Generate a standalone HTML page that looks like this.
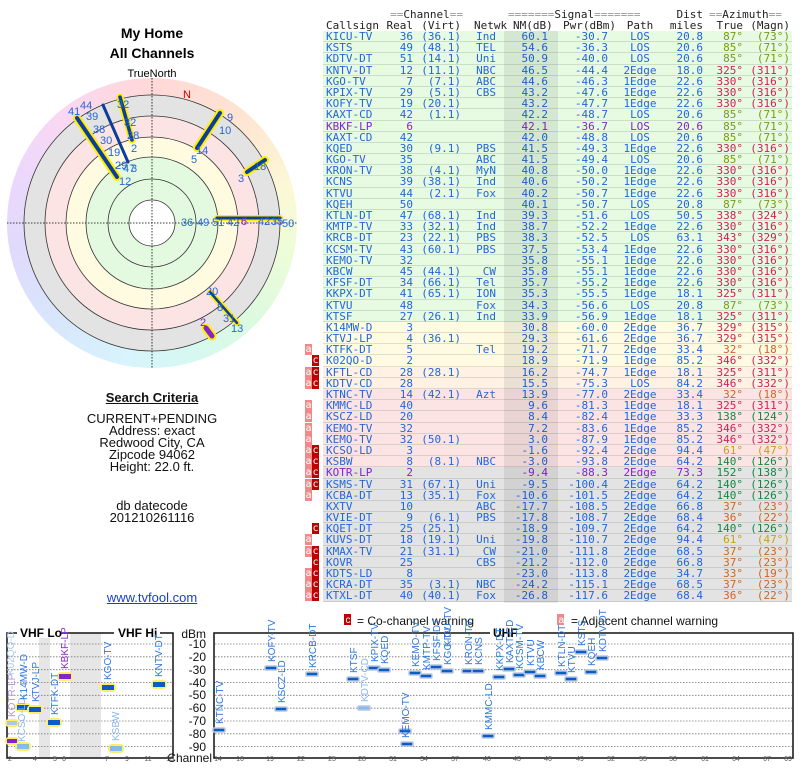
<!DOCTYPE html>
<html><head><meta charset="utf-8"><style>
body{margin:0;width:800px;height:768px;background:#fff;position:relative;overflow:hidden;font-family:"Liberation Sans",sans-serif}
.ab{position:absolute}
.ctr{position:absolute;left:52px;width:200px;text-align:center;font-size:13px;line-height:12px;color:#111}
#tb{position:absolute;left:323px;top:31px;width:469px;font-family:"DejaVu Sans Mono","Liberation Mono",monospace;font-size:11px;color:#2266dd}
.r{position:relative;height:11.2px;line-height:11.2px;border-bottom:1px solid rgba(120,140,120,0.25);box-sizing:border-box}
.r span{position:absolute;top:0;white-space:pre}
.g{background:#e6fbe2}.y{background:#fffbe2}.o{background:#fff1e4}.p{background:#fde4e4}.q{background:#e3e3e3}
.c1{left:3px}.c2{left:50px;width:40px;text-align:right}.c3{left:92px;width:46px;text-align:right}
.c4{left:146px;width:27px;text-align:right}.c5{left:190px;width:35px;text-align:right}
.c6{left:240px;width:45px;text-align:right}.c7{left:297px;width:40px;text-align:center}
.c8{left:345px;width:35px;text-align:right}.c9{left:380px;width:40px;text-align:right}
.c10{left:420px;width:47px;text-align:right}
.A{color:#7a9a10}.B{color:#cc2255}.C{color:#cc6622}.D{color:#c8a010}.E{color:#118844}
.pu{color:#8822cc}
.ba{position:absolute;left:-18px;top:0;width:7px;height:11px;background:#f08a8a;color:#fff;font-size:10px;line-height:11px;text-align:center}
.bc{position:absolute;left:-11px;top:0;width:7px;height:11px;background:#c00000;color:#fff;font-size:10px;line-height:11px;text-align:center}
#hd{position:absolute;left:323px;top:8px;font-family:"DejaVu Sans Mono","Liberation Mono",monospace;font-size:11px;color:#222;width:469px;height:24px}
#hd span{position:absolute;white-space:pre}
.eq{color:#999}
</style></head><body>

<div class="ab" style="left:152px;top:23px;width:200px;margin-left:-100px;text-align:center;font-weight:bold;font-size:14px;line-height:20px">My Home<br>All Channels</div>
<div class="ab" style="left:102px;top:68px;width:100px;text-align:center;font-size:11px">TrueNorth</div>

<div class="ab" style="left:7px;top:78px;width:290px;height:290px;border-radius:50%;background:conic-gradient(#ffd8d8 0deg,#ffe4d2 40deg,#fcf8d6 75deg,#eefcd8 100deg,#dcfae0 135deg,#d6f8f2 165deg,#d8f4fc 190deg,#d8e6fc 225deg,#e0dafc 260deg,#ecd8fc 290deg,#fad8f2 320deg,#ffd8d8 360deg)"></div>

<svg class="ab" style="left:0;top:0" width="800" height="768" viewBox="0 0 800 768">
<g>
<circle cx="152" cy="223" r="128" fill="#e3e3e3" stroke="#333" stroke-width="0.8"/>
<circle cx="152" cy="223" r="107" fill="#fde4e4" stroke="#333" stroke-width="0.8"/>
<circle cx="152" cy="223" r="86" fill="#fffbe0" stroke="#333" stroke-width="0.8"/>
<circle cx="152" cy="223" r="66" fill="#e4fae0" stroke="#333" stroke-width="0.8"/>
<circle cx="152" cy="223" r="44" fill="none" stroke="#333" stroke-width="0.8"/>
<circle cx="152" cy="223" r="23" fill="#fff" stroke="#333" stroke-width="0.8"/>
<line x1="7" y1="223" x2="297" y2="223" stroke="#000" stroke-width="0.8" stroke-dasharray="1.5,1.5"/>
<line x1="152" y1="78" x2="152" y2="368" stroke="#000" stroke-width="0.8" stroke-dasharray="1.5,1.5"/>
<text x="183" y="98" font-size="11" fill="#cc0000">N</text>
<g stroke-linecap="round">
<line x1="77" y1="118" x2="117" y2="177" stroke="#ffee00" stroke-width="8"/>
<line x1="77" y1="118" x2="117" y2="177" stroke="#0a3e9a" stroke-width="4"/>
<line x1="103" y1="105" x2="128" y2="162" stroke="#0a3e9a" stroke-width="3"/>
<line x1="120" y1="97" x2="132" y2="140" stroke="#ffee00" stroke-width="7"/>
<line x1="120" y1="97" x2="132" y2="140" stroke="#0a3e9a" stroke-width="3.5"/>
<line x1="220" y1="113" x2="197" y2="148" stroke="#ffee00" stroke-width="8"/>
<line x1="220" y1="113" x2="197" y2="148" stroke="#0a3e9a" stroke-width="4"/>
<line x1="265" y1="160" x2="247" y2="172" stroke="#ffee00" stroke-width="8"/>
<line x1="265" y1="160" x2="247" y2="172" stroke="#0a3e9a" stroke-width="4"/>
<line x1="217" y1="218" x2="280" y2="218" stroke="#ffee00" stroke-width="6"/>
<line x1="217" y1="218" x2="280" y2="218" stroke="#0a3e9a" stroke-width="3"/>
<line x1="210" y1="292" x2="237" y2="323" stroke="#ffee00" stroke-width="6"/>
<line x1="210" y1="292" x2="237" y2="323" stroke="#0a3e9a" stroke-width="2.5"/>
<line x1="206" y1="328" x2="212" y2="336" stroke="#ffee00" stroke-width="9"/>
<line x1="206" y1="328" x2="212" y2="336" stroke="#8822cc" stroke-width="5"/>
</g>
<g font-size="11" fill="#2266dd">
<text x="68" y="115">41</text><text x="80" y="109">44</text><text x="86" y="120">39</text><text x="93" y="133">38</text><text x="100" y="144">30</text><text x="108" y="156">19</text><text x="115" y="169">29</text><text x="123" y="172">47</text><text x="131" y="172">3</text><text x="119" y="185">12</text>
<text x="117" y="108">32</text><text x="124" y="126">32</text><text x="127" y="139">28</text><text x="131" y="152">2</text>
<text x="227" y="121">9</text><text x="219" y="134">10</text><text x="196" y="154">14</text><text x="191" y="163">5</text>
<text x="254" y="170">18</text><text x="238" y="182">3</text>
<text x="181" y="226">36</text><text x="197" y="226">49</text><text x="212" y="226">51</text><text x="227" y="226">42</text><text x="258" y="225">42</text><text x="271" y="225">35</text><text x="282" y="227">50</text>
<text x="241" y="225" fill="#8822cc">6</text>
<text x="206" y="295">20</text><text x="217" y="311">8</text><text x="223" y="322">31</text><text x="231" y="332">13</text>
<text x="200" y="326" fill="#8822cc">2</text>
</g>

<!-- bottom legend -->
<rect x="344" y="614" width="7" height="11" fill="#c00000"/><text x="345.5" y="623" font-size="10" fill="#fff">c</text>
<text x="357" y="625" font-size="12" fill="#111">= Co-channel warning</text>
<rect x="557" y="614" width="7" height="11" fill="#f08a8a"/><text x="558.5" y="623" font-size="10" fill="#fff">a</text>
<text x="571" y="625" font-size="12" fill="#111">= Adjacent channel warning</text>

<!-- VHF box -->
<rect x="39" y="633" width="11" height="125" fill="#e6e6e6"/>
<rect x="70" y="633" width="31" height="125" fill="#e6e6e6"/>
<rect x="7" y="633" width="166" height="125" fill="none" stroke="#111" stroke-width="1.5"/>
<rect x="214" y="633" width="579" height="125" fill="none" stroke="#111" stroke-width="1.5"/>
<rect x="17" y="626" width="44" height="12" fill="#fff"/><text x="20" y="637" font-size="12" font-weight="bold">VHF Lo</text>
<rect x="114" y="626" width="46" height="12" fill="#fff"/><text x="118" y="637" font-size="12" font-weight="bold">VHF Hi</text>
<rect x="490" y="626" width="32" height="12" fill="#fff"/><text x="493" y="637" font-size="12" font-weight="bold">UHF</text>
<g stroke="#777" stroke-width="0.8" stroke-dasharray="1.5,1.5">
<line x1="8" y1="644" x2="172" y2="644"/><line x1="8" y1="656.8" x2="172" y2="656.8"/><line x1="8" y1="669.7" x2="172" y2="669.7"/><line x1="8" y1="682.5" x2="172" y2="682.5"/><line x1="8" y1="695.3" x2="172" y2="695.3"/><line x1="8" y1="708.2" x2="172" y2="708.2"/><line x1="8" y1="721" x2="172" y2="721"/><line x1="8" y1="733.8" x2="172" y2="733.8"/><line x1="8" y1="746.6" x2="172" y2="746.6"/>
<line x1="215" y1="644" x2="792" y2="644"/><line x1="215" y1="656.8" x2="792" y2="656.8"/><line x1="215" y1="669.7" x2="792" y2="669.7"/><line x1="215" y1="682.5" x2="792" y2="682.5"/><line x1="215" y1="695.3" x2="792" y2="695.3"/><line x1="215" y1="708.2" x2="792" y2="708.2"/><line x1="215" y1="721" x2="792" y2="721"/><line x1="215" y1="733.8" x2="792" y2="733.8"/><line x1="215" y1="746.6" x2="792" y2="746.6"/>
</g>
<g font-size="12" fill="#111" text-anchor="end">
<text x="206" y="638">dBm</text><text x="206" y="648">-10</text><text x="206" y="661">-20</text><text x="206" y="674">-30</text><text x="206" y="687">-40</text><text x="206" y="699">-50</text><text x="206" y="712">-60</text><text x="206" y="725">-70</text><text x="206" y="738">-80</text><text x="206" y="751">-90</text>
<text x="212" y="762">Channel</text>
</g>
<g font-size="7" fill="#555" text-anchor="middle">
<rect x="4" y="755" width="790" height="8" fill="#fff" opacity="0"/>
<text x="10" y="761">2</text><text x="35" y="761">4</text><text x="55" y="761">5</text><text x="64" y="761">6</text><text x="107" y="761">7</text><text x="127" y="761">9</text><text x="148" y="761">11</text><text x="170" y="761">13</text>
<text x="218" y="761">14</text><text x="240" y="761">16</text><text x="270" y="761">19</text><text x="301" y="761">22</text><text x="332" y="761">25</text><text x="362" y="761">28</text><text x="393" y="761">31</text><text x="424" y="761">34</text><text x="455" y="761">37</text><text x="487" y="761">40</text><text x="517" y="761">43</text><text x="548" y="761">46</text><text x="580" y="761">49</text><text x="611" y="761">52</text><text x="643" y="761">55</text><text x="673" y="761">58</text><text x="705" y="761">61</text><text x="736" y="761">64</text><text x="767" y="761">67</text><text x="788" y="761">69</text>
</g>

<!-- VHF bars -->
<g>
<rect x="5" y="719" width="14" height="8" rx="4" fill="#ffee66"/><rect x="7" y="721" width="10" height="4" fill="#aac8ee"/>
<rect x="5" y="737" width="14" height="8" rx="4" fill="#ffee66"/><rect x="7" y="739" width="10" height="4" fill="#8822cc"/>
<rect x="15" y="703" width="16" height="9" rx="4" fill="#ffee66"/><rect x="17" y="705" width="12" height="5" fill="#0a5cc8"/>
<rect x="15" y="742" width="16" height="9" rx="4" fill="#ffee66"/><rect x="17" y="744" width="12" height="5" fill="#88b8ee"/>
<rect x="27" y="705" width="16" height="9" rx="4" fill="#ffee66"/><rect x="29" y="707" width="12" height="5" fill="#0a5cc8"/>
<rect x="46" y="718" width="16" height="9" rx="4" fill="#ffee66"/><rect x="48" y="720" width="12" height="5" fill="#0a5cc8"/>
<rect x="57" y="672" width="16" height="9" rx="4" fill="#ffee66"/><rect x="59" y="674" width="12" height="5" fill="#8822cc"/>
<rect x="100" y="683" width="16" height="9" rx="4" fill="#ffee66"/><rect x="102" y="685" width="12" height="5" fill="#0a5cc8"/>
<rect x="108" y="744" width="16" height="9" rx="4" fill="#ffee66"/><rect x="110" y="746" width="12" height="5" fill="#88b8ee"/>
<rect x="151" y="680" width="16" height="9" rx="4" fill="#ffee66"/><rect x="153" y="682" width="12" height="5" fill="#0a5cc8"/>
</g>
<g font-size="10" fill="#2a77dd">
<text transform="translate(15,717) rotate(-90)" fill="#b090e0">KOTR-LP</text>
<text transform="translate(14,675) rotate(-90)" fill="#aac8ee">K02QO-D</text>
<text transform="translate(25,742) rotate(-90)" fill="#88b8ee">KCSO-LD</text>
<text transform="translate(27,700) rotate(-90)">K14MW-D</text>
<text transform="translate(39,702) rotate(-90)">KTVJ-LP</text>
<text transform="translate(58,715) rotate(-90)">KTFK-DT</text>
<text transform="translate(68,669) rotate(-90)" fill="#8822cc">KBKF-LP</text>
<text transform="translate(111,680) rotate(-90)">KGO-TV</text>
<text transform="translate(119,741) rotate(-90)" fill="#88b8ee">KSBW</text>
<text transform="translate(162,677) rotate(-90)">KNTV-DT</text>
</g>

<!-- UHF bars -->
<g fill="#0a5cc8" stroke="#b8c8e0" stroke-width="1.5">
<rect x="213" y="728" width="12" height="4" rx="1"/>
<rect x="265" y="666" width="12" height="4" rx="1"/>
<rect x="275" y="707" width="12" height="4" rx="1"/>
<rect x="306" y="672" width="12" height="4" rx="1"/>
<rect x="347" y="677" width="12" height="4" rx="1"/>
<rect x="358" y="706" width="12" height="4" rx="1" fill="#88b8ee"/>
<rect x="368" y="666" width="12" height="4" rx="1"/>
<rect x="378" y="668" width="12" height="4" rx="1"/>
<rect x="399" y="729" width="12" height="4" rx="1"/>
<rect x="401" y="742" width="12" height="4" rx="1"/>
<rect x="409" y="671" width="12" height="4" rx="1"/>
<rect x="420" y="674" width="12" height="4" rx="1"/>
<rect x="430" y="665" width="12" height="4" rx="1"/>
<rect x="441" y="669" width="12" height="4" rx="1"/>
<rect x="462" y="669" width="12" height="4" rx="1"/>
<rect x="472" y="669" width="12" height="4" rx="1"/>
<rect x="482" y="734" width="12" height="4" rx="1"/>
<rect x="493" y="675" width="12" height="4" rx="1"/>
<rect x="503" y="667" width="12" height="4" rx="1"/>
<rect x="513" y="673" width="12" height="4" rx="1"/>
<rect x="524" y="670" width="12" height="4" rx="1"/>
<rect x="534" y="674" width="12" height="4" rx="1"/>
<rect x="555" y="671" width="12" height="4" rx="1"/>
<rect x="565" y="677" width="12" height="4" rx="1"/>
<rect x="575" y="650" width="12" height="4" rx="1"/>
<rect x="585" y="670" width="12" height="4" rx="1"/>
<rect x="596" y="656" width="12" height="4" rx="1"/>
</g>
<g font-size="10" fill="#2a77dd">
<text transform="translate(223,724) rotate(-90)">KTNC-TV</text>
<text transform="translate(275,662) rotate(-90)">KOFY-TV</text>
<text transform="translate(285,703) rotate(-90)">KSCZ-LD</text>
<text transform="translate(316,668) rotate(-90)">KRCB-DT</text>
<text transform="translate(357,673) rotate(-90)">KTSF</text>
<text transform="translate(368,702) rotate(-90)" fill="#88b8ee">KDTV-CD</text>
<text transform="translate(378,662) rotate(-90)">KPIX-TV</text>
<text transform="translate(388,664) rotate(-90)">KQED</text>
<text transform="translate(409,738) rotate(-90)">KEMO-TV</text>
<text transform="translate(419,667) rotate(-90)">KEMO-TV</text>
<text transform="translate(430,670) rotate(-90)">KMTP-TV</text>
<text transform="translate(440,661) rotate(-90)">KFSF-DT</text>
<text transform="translate(451,665) rotate(-90)">KGO-TV</text>
<text transform="translate(451,662) rotate(-90)"> </text>
<text transform="translate(472,665) rotate(-90)">KRON-TV</text>
<text transform="translate(482,665) rotate(-90)">KCNS</text>
<text transform="translate(492,730) rotate(-90)">KMMC-LD</text>
<text transform="translate(503,671) rotate(-90)">KKPX-DT</text>
<text transform="translate(513,663) rotate(-90)">KAXT-CD</text>
<text transform="translate(523,669) rotate(-90)">KCSM-TV</text>
<text transform="translate(534,666) rotate(-90)">KTVU</text>
<text transform="translate(544,670) rotate(-90)">KBCW</text>
<text transform="translate(565,667) rotate(-90)">KTLN-DT</text>
<text transform="translate(575,673) rotate(-90)">KTVU</text>
<text transform="translate(585,646) rotate(-90)">KSTS</text>
<text transform="translate(595,666) rotate(-90)">KQEH</text>
<text transform="translate(606,652) rotate(-90)">KDTV-DT</text>
<text transform="translate(452,661) rotate(-90)" fill="#2a77dd"></text>
</g>
<text transform="translate(451,647) rotate(-90)" font-size="10" fill="#2a77dd">KICU-TV</text>
</svg>

<div class="ctr" style="top:392px;font-weight:bold;text-decoration:underline">Search Criteria</div>
<div class="ctr" style="top:413px">CURRENT+PENDING<br>Address: exact<br>Redwood City, CA<br>Zipcode 94062<br>Height: 22.0 ft.</div>
<div class="ctr" style="top:500px">db datecode<br>201210261116</div>
<div class="ctr" style="top:592px;color:#1a3ec8;text-decoration:underline">www.tvfool.com</div>

<div id="hd">
<span style="left:-30px;top:0;width:170px;text-align:right"><span class="eq" style="position:static">==</span>Channel<span class="eq" style="position:static">==</span></span>
<span style="left:185px;top:0"><span class="eq" style="position:static">=======</span>Signal<span class="eq" style="position:static">=======</span></span>
<span style="left:380px;top:0;width:0"></span>
<span style="left:350px;top:0;width:30px;text-align:right">Dist</span>
<span style="left:386px;top:0"><span class="eq" style="position:static">==</span>Azimuth<span class="eq" style="position:static">==</span></span>
<span style="left:3px;top:11px">Callsign</span>
<span style="left:50px;top:11px;width:40px;text-align:right">Real</span>
<span style="left:92px;top:11px;width:46px;text-align:right">(Virt)</span>
<span style="left:146px;top:11px;width:40px;text-align:left;margin-left:5px">Netwk</span>
<span style="left:190px;top:11px;width:35px;text-align:right">NM(dB)</span>
<span style="left:240px;top:11px;width:45px;text-align:right">Pwr(dBm)</span>
<span style="left:297px;top:11px;width:40px;text-align:center">Path</span>
<span style="left:345px;top:11px;width:35px;text-align:right">miles</span>
<span style="left:380px;top:11px;width:40px;text-align:right">True</span>
<span style="left:420px;top:11px;width:47px;text-align:right">(Magn)</span>
</div>

<div class="ab" style="left:504px;top:31px;width:54px;height:572px;background:rgba(0,0,0,0.075);z-index:2"></div>

<div id="tb">
<div class="r g"><span class="c1">KICU-TV</span><span class="c2">36</span><span class="c3">(36.1)</span><span class="c4">Ind</span><span class="c5">60.1</span><span class="c6">-30.7</span><span class="c7">LOS</span><span class="c8">20.8</span><span class="c9 A">87°</span><span class="c10 A">(73°)</span></div>
<div class="r g"><span class="c1">KSTS</span><span class="c2">49</span><span class="c3">(48.1)</span><span class="c4">TEL</span><span class="c5">54.6</span><span class="c6">-36.3</span><span class="c7">LOS</span><span class="c8">20.6</span><span class="c9 A">85°</span><span class="c10 A">(71°)</span></div>
<div class="r g"><span class="c1">KDTV-DT</span><span class="c2">51</span><span class="c3">(14.1)</span><span class="c4">Uni</span><span class="c5">50.9</span><span class="c6">-40.0</span><span class="c7">LOS</span><span class="c8">20.6</span><span class="c9 A">85°</span><span class="c10 A">(71°)</span></div>
<div class="r g"><span class="c1">KNTV-DT</span><span class="c2">12</span><span class="c3">(11.1)</span><span class="c4">NBC</span><span class="c5">46.5</span><span class="c6">-44.4</span><span class="c7">2Edge</span><span class="c8">18.0</span><span class="c9 B">325°</span><span class="c10 B">(311°)</span></div>
<div class="r g"><span class="c1">KGO-TV</span><span class="c2">7</span><span class="c3">(7.1)</span><span class="c4">ABC</span><span class="c5">44.6</span><span class="c6">-46.3</span><span class="c7">1Edge</span><span class="c8">22.6</span><span class="c9 B">330°</span><span class="c10 B">(316°)</span></div>
<div class="r g"><span class="c1">KPIX-TV</span><span class="c2">29</span><span class="c3">(5.1)</span><span class="c4">CBS</span><span class="c5">43.2</span><span class="c6">-47.6</span><span class="c7">1Edge</span><span class="c8">22.6</span><span class="c9 B">330°</span><span class="c10 B">(316°)</span></div>
<div class="r g"><span class="c1">KOFY-TV</span><span class="c2">19</span><span class="c3">(20.1)</span><span class="c5">43.2</span><span class="c6">-47.7</span><span class="c7">1Edge</span><span class="c8">22.6</span><span class="c9 B">330°</span><span class="c10 B">(316°)</span></div>
<div class="r g"><span class="c1">KAXT-CD</span><span class="c2">42</span><span class="c3">(1.1)</span><span class="c5">42.2</span><span class="c6">-48.7</span><span class="c7">LOS</span><span class="c8">20.6</span><span class="c9 A">85°</span><span class="c10 A">(71°)</span></div>
<div class="r g pu"><span class="c1">KBKF-LP</span><span class="c2">6</span><span class="c5">42.1</span><span class="c6">-36.7</span><span class="c7">LOS</span><span class="c8">20.6</span><span class="c9 A">85°</span><span class="c10 A">(71°)</span></div>
<div class="r g"><span class="c1">KAXT-CD</span><span class="c2">42</span><span class="c5">42.0</span><span class="c6">-48.8</span><span class="c7">LOS</span><span class="c8">20.6</span><span class="c9 A">85°</span><span class="c10 A">(71°)</span></div>
<div class="r g"><span class="c1">KQED</span><span class="c2">30</span><span class="c3">(9.1)</span><span class="c4">PBS</span><span class="c5">41.5</span><span class="c6">-49.3</span><span class="c7">1Edge</span><span class="c8">22.6</span><span class="c9 B">330°</span><span class="c10 B">(316°)</span></div>
<div class="r g"><span class="c1">KGO-TV</span><span class="c2">35</span><span class="c4">ABC</span><span class="c5">41.5</span><span class="c6">-49.4</span><span class="c7">LOS</span><span class="c8">20.6</span><span class="c9 A">85°</span><span class="c10 A">(71°)</span></div>
<div class="r g"><span class="c1">KRON-TV</span><span class="c2">38</span><span class="c3">(4.1)</span><span class="c4">MyN</span><span class="c5">40.8</span><span class="c6">-50.0</span><span class="c7">1Edge</span><span class="c8">22.6</span><span class="c9 B">330°</span><span class="c10 B">(316°)</span></div>
<div class="r g"><span class="c1">KCNS</span><span class="c2">39</span><span class="c3">(38.1)</span><span class="c4">Ind</span><span class="c5">40.6</span><span class="c6">-50.2</span><span class="c7">1Edge</span><span class="c8">22.6</span><span class="c9 B">330°</span><span class="c10 B">(316°)</span></div>
<div class="r g"><span class="c1">KTVU</span><span class="c2">44</span><span class="c3">(2.1)</span><span class="c4">Fox</span><span class="c5">40.2</span><span class="c6">-50.7</span><span class="c7">1Edge</span><span class="c8">22.6</span><span class="c9 B">330°</span><span class="c10 B">(316°)</span></div>
<div class="r g"><span class="c1">KQEH</span><span class="c2">50</span><span class="c5">40.1</span><span class="c6">-50.7</span><span class="c7">LOS</span><span class="c8">20.8</span><span class="c9 A">87°</span><span class="c10 A">(73°)</span></div>
<div class="r g"><span class="c1">KTLN-DT</span><span class="c2">47</span><span class="c3">(68.1)</span><span class="c4">Ind</span><span class="c5">39.3</span><span class="c6">-51.6</span><span class="c7">LOS</span><span class="c8">50.5</span><span class="c9 B">338°</span><span class="c10 B">(324°)</span></div>
<div class="r g"><span class="c1">KMTP-TV</span><span class="c2">33</span><span class="c3">(32.1)</span><span class="c4">Ind</span><span class="c5">38.7</span><span class="c6">-52.2</span><span class="c7">1Edge</span><span class="c8">22.6</span><span class="c9 B">330°</span><span class="c10 B">(316°)</span></div>
<div class="r g"><span class="c1">KRCB-DT</span><span class="c2">23</span><span class="c3">(22.1)</span><span class="c4">PBS</span><span class="c5">38.3</span><span class="c6">-52.5</span><span class="c7">LOS</span><span class="c8">63.1</span><span class="c9 B">343°</span><span class="c10 B">(329°)</span></div>
<div class="r g"><span class="c1">KCSM-TV</span><span class="c2">43</span><span class="c3">(60.1)</span><span class="c4">PBS</span><span class="c5">37.5</span><span class="c6">-53.4</span><span class="c7">1Edge</span><span class="c8">22.6</span><span class="c9 B">330°</span><span class="c10 B">(316°)</span></div>
<div class="r g"><span class="c1">KEMO-TV</span><span class="c2">32</span><span class="c5">35.8</span><span class="c6">-55.1</span><span class="c7">1Edge</span><span class="c8">22.6</span><span class="c9 B">330°</span><span class="c10 B">(316°)</span></div>
<div class="r g"><span class="c1">KBCW</span><span class="c2">45</span><span class="c3">(44.1)</span><span class="c4">CW</span><span class="c5">35.8</span><span class="c6">-55.1</span><span class="c7">1Edge</span><span class="c8">22.6</span><span class="c9 B">330°</span><span class="c10 B">(316°)</span></div>
<div class="r g"><span class="c1">KFSF-DT</span><span class="c2">34</span><span class="c3">(66.1)</span><span class="c4">Tel</span><span class="c5">35.7</span><span class="c6">-55.2</span><span class="c7">1Edge</span><span class="c8">22.6</span><span class="c9 B">330°</span><span class="c10 B">(316°)</span></div>
<div class="r g"><span class="c1">KKPX-DT</span><span class="c2">41</span><span class="c3">(65.1)</span><span class="c4">ION</span><span class="c5">35.3</span><span class="c6">-55.5</span><span class="c7">1Edge</span><span class="c8">18.1</span><span class="c9 B">325°</span><span class="c10 B">(311°)</span></div>
<div class="r g"><span class="c1">KTVU</span><span class="c2">48</span><span class="c4">Fox</span><span class="c5">34.3</span><span class="c6">-56.6</span><span class="c7">LOS</span><span class="c8">20.8</span><span class="c9 A">87°</span><span class="c10 A">(73°)</span></div>
<div class="r g"><span class="c1">KTSF</span><span class="c2">27</span><span class="c3">(26.1)</span><span class="c4">Ind</span><span class="c5">33.9</span><span class="c6">-56.9</span><span class="c7">1Edge</span><span class="c8">18.1</span><span class="c9 B">325°</span><span class="c10 B">(311°)</span></div>
<div class="r y"><span class="c1">K14MW-D</span><span class="c2">3</span><span class="c5">30.8</span><span class="c6">-60.0</span><span class="c7">2Edge</span><span class="c8">36.7</span><span class="c9 B">329°</span><span class="c10 B">(315°)</span></div>
<div class="r y"><span class="c1">KTVJ-LP</span><span class="c2">4</span><span class="c3">(36.1)</span><span class="c5">29.3</span><span class="c6">-61.6</span><span class="c7">2Edge</span><span class="c8">36.7</span><span class="c9 B">329°</span><span class="c10 B">(315°)</span></div>
<div class="r y"><span class="ba">a</span><span class="c1">KTFK-DT</span><span class="c2">5</span><span class="c4">Tel</span><span class="c5">19.2</span><span class="c6">-71.7</span><span class="c7">2Edge</span><span class="c8">33.4</span><span class="c9 C">32°</span><span class="c10 C">(18°)</span></div>
<div class="r y"><span class="bc">c</span><span class="c1">K02QO-D</span><span class="c2">2</span><span class="c5">18.9</span><span class="c6">-71.9</span><span class="c7">1Edge</span><span class="c8">85.2</span><span class="c9 B">346°</span><span class="c10 B">(332°)</span></div>
<div class="r o"><span class="ba">a</span><span class="bc">c</span><span class="c1">KFTL-CD</span><span class="c2">28</span><span class="c3">(28.1)</span><span class="c5">16.2</span><span class="c6">-74.7</span><span class="c7">1Edge</span><span class="c8">18.1</span><span class="c9 B">325°</span><span class="c10 B">(311°)</span></div>
<div class="r o"><span class="ba">a</span><span class="bc">c</span><span class="c1">KDTV-CD</span><span class="c2">28</span><span class="c5">15.5</span><span class="c6">-75.3</span><span class="c7">LOS</span><span class="c8">84.2</span><span class="c9 B">346°</span><span class="c10 B">(332°)</span></div>
<div class="r p"><span class="c1">KTNC-TV</span><span class="c2">14</span><span class="c3">(42.1)</span><span class="c4">Azt</span><span class="c5">13.9</span><span class="c6">-77.0</span><span class="c7">2Edge</span><span class="c8">33.4</span><span class="c9 C">32°</span><span class="c10 C">(18°)</span></div>
<div class="r p"><span class="ba">a</span><span class="c1">KMMC-LD</span><span class="c2">40</span><span class="c5">9.6</span><span class="c6">-81.3</span><span class="c7">1Edge</span><span class="c8">18.1</span><span class="c9 B">325°</span><span class="c10 B">(311°)</span></div>
<div class="r p"><span class="ba">a</span><span class="c1">KSCZ-LD</span><span class="c2">20</span><span class="c5">8.4</span><span class="c6">-82.4</span><span class="c7">1Edge</span><span class="c8">33.3</span><span class="c9 E">138°</span><span class="c10 E">(124°)</span></div>
<div class="r p"><span class="ba">a</span><span class="c1">KEMO-TV</span><span class="c2">32</span><span class="c5">7.2</span><span class="c6">-83.6</span><span class="c7">1Edge</span><span class="c8">85.2</span><span class="c9 B">346°</span><span class="c10 B">(332°)</span></div>
<div class="r p"><span class="ba">a</span><span class="c1">KEMO-TV</span><span class="c2">32</span><span class="c3">(50.1)</span><span class="c5">3.0</span><span class="c6">-87.9</span><span class="c7">1Edge</span><span class="c8">85.2</span><span class="c9 B">346°</span><span class="c10 B">(332°)</span></div>
<div class="r p"><span class="ba">a</span><span class="bc">c</span><span class="c1">KCSO-LD</span><span class="c2">3</span><span class="c5">-1.6</span><span class="c6">-92.4</span><span class="c7">2Edge</span><span class="c8">94.4</span><span class="c9 D">61°</span><span class="c10 D">(47°)</span></div>
<div class="r p"><span class="ba">a</span><span class="bc">c</span><span class="c1">KSBW</span><span class="c2">8</span><span class="c3">(8.1)</span><span class="c4">NBC</span><span class="c5">-3.0</span><span class="c6">-93.8</span><span class="c7">2Edge</span><span class="c8">64.2</span><span class="c9 E">140°</span><span class="c10 E">(126°)</span></div>
<div class="r q pu"><span class="ba">a</span><span class="bc">c</span><span class="c1">KOTR-LP</span><span class="c2">2</span><span class="c5">-9.4</span><span class="c6">-88.3</span><span class="c7">2Edge</span><span class="c8">73.3</span><span class="c9 E">152°</span><span class="c10 E">(138°)</span></div>
<div class="r q"><span class="ba">a</span><span class="bc">c</span><span class="c1">KSMS-TV</span><span class="c2">31</span><span class="c3">(67.1)</span><span class="c4">Uni</span><span class="c5">-9.5</span><span class="c6">-100.4</span><span class="c7">2Edge</span><span class="c8">64.2</span><span class="c9 E">140°</span><span class="c10 E">(126°)</span></div>
<div class="r q"><span class="ba">a</span><span class="c1">KCBA-DT</span><span class="c2">13</span><span class="c3">(35.1)</span><span class="c4">Fox</span><span class="c5">-10.6</span><span class="c6">-101.5</span><span class="c7">2Edge</span><span class="c8">64.2</span><span class="c9 E">140°</span><span class="c10 E">(126°)</span></div>
<div class="r q"><span class="c1">KXTV</span><span class="c2">10</span><span class="c4">ABC</span><span class="c5">-17.7</span><span class="c6">-108.5</span><span class="c7">2Edge</span><span class="c8">66.8</span><span class="c9 C">37°</span><span class="c10 C">(23°)</span></div>
<div class="r q"><span class="c1">KVIE-DT</span><span class="c2">9</span><span class="c3">(6.1)</span><span class="c4">PBS</span><span class="c5">-17.8</span><span class="c6">-108.7</span><span class="c7">2Edge</span><span class="c8">68.4</span><span class="c9 C">36°</span><span class="c10 C">(22°)</span></div>
<div class="r q"><span class="bc">c</span><span class="c1">KQET-DT</span><span class="c2">25</span><span class="c3">(25.1)</span><span class="c5">-18.9</span><span class="c6">-109.7</span><span class="c7">2Edge</span><span class="c8">64.2</span><span class="c9 E">140°</span><span class="c10 E">(126°)</span></div>
<div class="r q"><span class="ba">a</span><span class="c1">KUVS-DT</span><span class="c2">18</span><span class="c3">(19.1)</span><span class="c4">Uni</span><span class="c5">-19.8</span><span class="c6">-110.7</span><span class="c7">2Edge</span><span class="c8">94.4</span><span class="c9 D">61°</span><span class="c10 D">(47°)</span></div>
<div class="r q"><span class="ba">a</span><span class="bc">c</span><span class="c1">KMAX-TV</span><span class="c2">21</span><span class="c3">(31.1)</span><span class="c4">CW</span><span class="c5">-21.0</span><span class="c6">-111.8</span><span class="c7">2Edge</span><span class="c8">68.5</span><span class="c9 C">37°</span><span class="c10 C">(23°)</span></div>
<div class="r q"><span class="bc">c</span><span class="c1">KOVR</span><span class="c2">25</span><span class="c4">CBS</span><span class="c5">-21.2</span><span class="c6">-112.0</span><span class="c7">2Edge</span><span class="c8">66.8</span><span class="c9 C">37°</span><span class="c10 C">(23°)</span></div>
<div class="r q"><span class="ba">a</span><span class="bc">c</span><span class="c1">KDTS-LD</span><span class="c2">8</span><span class="c5">-23.0</span><span class="c6">-113.8</span><span class="c7">2Edge</span><span class="c8">34.7</span><span class="c9 C">33°</span><span class="c10 C">(19°)</span></div>
<div class="r q"><span class="ba">a</span><span class="bc">c</span><span class="c1">KCRA-DT</span><span class="c2">35</span><span class="c3">(3.1)</span><span class="c4">NBC</span><span class="c5">-24.2</span><span class="c6">-115.1</span><span class="c7">2Edge</span><span class="c8">68.5</span><span class="c9 C">37°</span><span class="c10 C">(23°)</span></div>
<div class="r q"><span class="ba">a</span><span class="bc">c</span><span class="c1">KTXL-DT</span><span class="c2">40</span><span class="c3">(40.1)</span><span class="c4">Fox</span><span class="c5">-26.8</span><span class="c6">-117.6</span><span class="c7">2Edge</span><span class="c8">68.4</span><span class="c9 C">36°</span><span class="c10 C">(22°)</span></div>
</div>
</body></html>
